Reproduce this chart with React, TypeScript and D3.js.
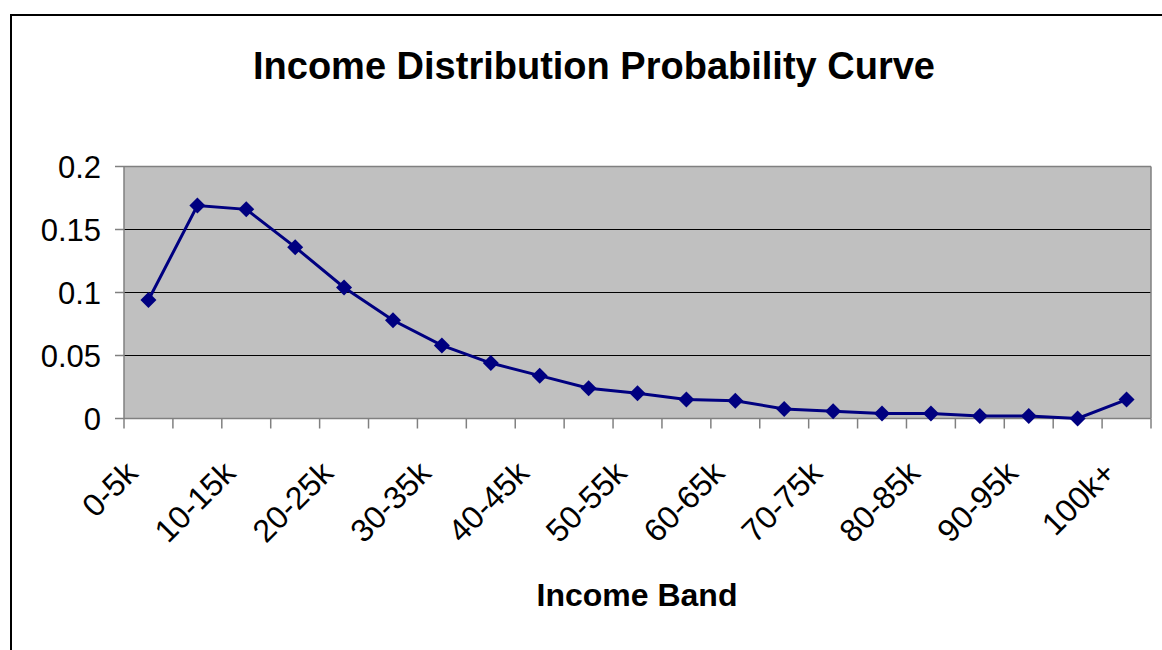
import React from "react";
import * as d3 from "d3";

const categories = [
  "0-5k", "5-10k", "10-15k", "15-20k", "20-25k", "25-30k", "30-35k",
  "35-40k", "40-45k", "45-50k", "50-55k", "55-60k", "60-65k", "65-70k",
  "70-75k", "75-80k", "80-85k", "85-90k", "90-95k", "95-100k", "100k+",
];
const probabilities = [
  0.094, 0.169, 0.166, 0.136, 0.104, 0.078, 0.058,
  0.044, 0.034, 0.024, 0.02, 0.015, 0.014, 0.0076,
  0.0058, 0.004, 0.004, 0.002, 0.002, 0, 0.015,
];
const yTicks = [0, 0.05, 0.1, 0.15, 0.2];
const yTickLabels = ["0", "0.05", "0.1", "0.15", "0.2"];
const title = "Income Distribution Probability Curve";
const xTitle = "Income Band";

const W = 1162;
const H = 650;
const left = 124;
const right = 1151;
const top = 166.5;
const bottom = 418.5;
const font = "Arial, 'Liberation Sans', sans-serif";

export default function App() {
  const x = d3.scaleBand<string>().domain(categories).range([left, right]).padding(0);
  const y = d3.scaleLinear().domain([0, 0.2]).range([bottom, top]);
  const cx = (c: string) => (x(c) as number) + x.bandwidth() / 2;

  const line = d3
    .line<number>()
    .x((_, i) => cx(categories[i]))
    .y((d) => y(d));

  const boundaries = categories.map((c) => x(c) as number).concat([right]);
  const diamond = "M0,-8L8,0L0,8L-8,0Z";

  return (
    <svg
      width={W}
      height={H}
      style={{ position: "absolute", left: 0, top: 0, background: "#fff" }}
    >
      <rect x={0} y={0} width={W} height={H} fill="#fff" />
      {/* outer chart border */}
      <rect x={11} y={15} width={1300} height={900} fill="none" stroke="#000" strokeWidth={2} />

      {/* title */}
      <text x={594} y={79} textAnchor="middle" fontFamily={font} fontWeight="bold" fontSize={38} fill="#000">
        {title}
      </text>

      {/* plot area */}
      <rect x={left} y={top} width={right - left} height={bottom - top} fill="#C0C0C0" />
      {yTicks.slice(1, -1).map((t) => (
        <line key={t} x1={left} x2={right} y1={y(t)} y2={y(t)} stroke="#000" strokeWidth={1} />
      ))}
      {/* plot border top/right */}
      <line x1={left} x2={right} y1={top} y2={top} stroke="#808080" strokeWidth={1.5} />
      <line x1={right} x2={right} y1={top} y2={bottom} stroke="#808080" strokeWidth={1.5} />

      {/* y axis */}
      <line x1={left} x2={left} y1={top} y2={bottom} stroke="#808080" strokeWidth={1.5} />
      {yTicks.map((t, i) => (
        <g key={t}>
          <line x1={left - 9} x2={left} y1={y(t)} y2={y(t)} stroke="#808080" strokeWidth={1.5} />
          <text x={101} y={y(t)} dy="0.36em" textAnchor="end" fontFamily={font} fontSize={31} fill="#000">
            {yTickLabels[i]}
          </text>
        </g>
      ))}

      {/* x axis */}
      <line x1={left} x2={right} y1={bottom} y2={bottom} stroke="#808080" strokeWidth={1.5} />
      {boundaries.map((b, i) => (
        <line key={i} x1={b} x2={b} y1={bottom} y2={bottom + 10} stroke="#808080" strokeWidth={1.5} />
      ))}
      {categories.map((c, i) =>
        i % 2 === 0 ? (
          <text
            key={c}
            transform={`translate(${cx(c) - 9},475) rotate(-45)`}
            textAnchor="end"
            fontFamily={font}
            fontSize={32}
            fill="#000"
          >
            {c}
          </text>
        ) : null
      )}

      {/* x title */}
      <text x={637} y={606} textAnchor="middle" fontFamily={font} fontWeight="bold" fontSize={32} fill="#000">
        {xTitle}
      </text>

      {/* series */}
      <path d={line(probabilities) || ""} fill="none" stroke="#000080" strokeWidth={3} />
      {probabilities.map((p, i) => (
        <path
          key={i}
          d={diamond}
          transform={`translate(${cx(categories[i])},${y(p)})`}
          fill="#000080"
        />
      ))}
    </svg>
  );
}
